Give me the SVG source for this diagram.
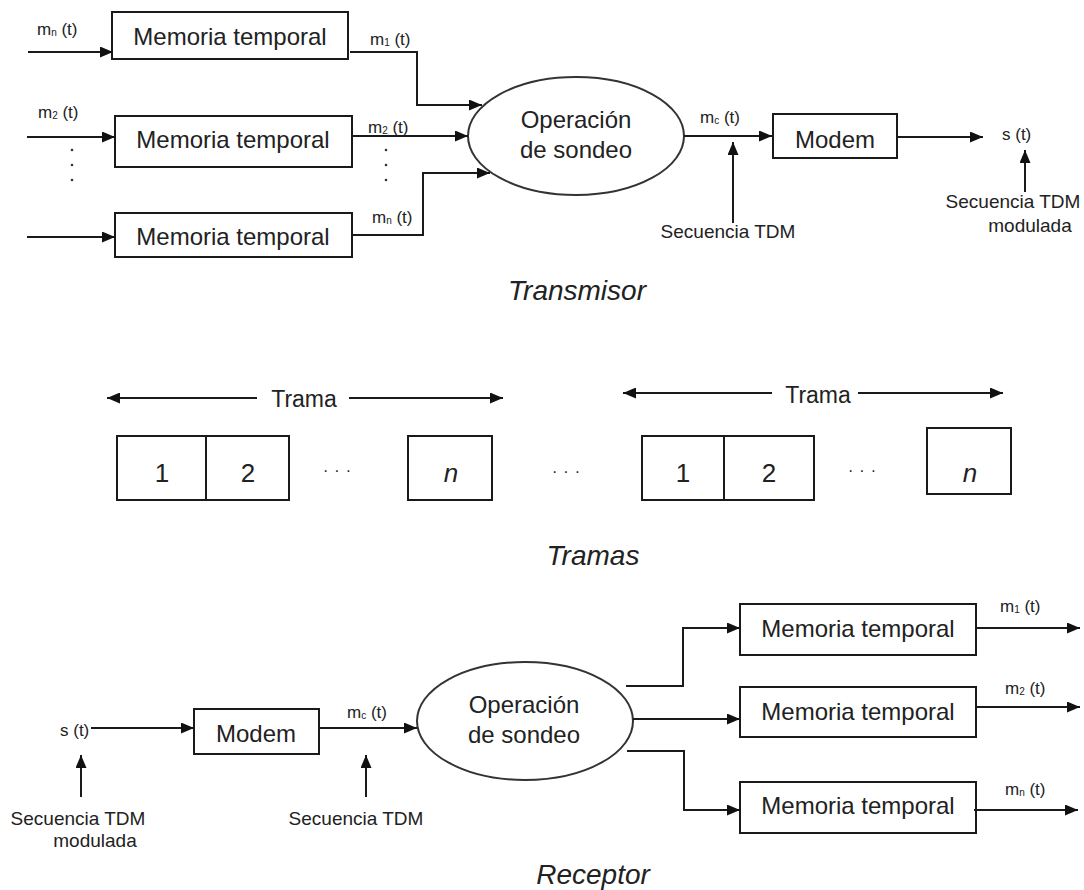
<svg xmlns="http://www.w3.org/2000/svg" width="1084" height="890" viewBox="0 0 1084 890">
  <defs>
    <marker id="arrow" markerUnits="userSpaceOnUse" markerWidth="13" markerHeight="11" refX="13" refY="5.5" orient="auto-start-reverse">
      <path d="M0,0 L13,5.5 L0,11 z" fill="#111"/>
    </marker>
    <style>
      .box { fill: #fff; stroke: #1a1a1a; stroke-width: 2; }
      .ell { fill: #fff; stroke: #333; stroke-width: 2; }
      .wire { fill: none; stroke: #1a1a1a; stroke-width: 2; }
      .arr { marker-end: url(#arrow); }
      .both { marker-start: url(#arrow); marker-end: url(#arrow); }
      text { font-family: "Liberation Sans", Arial, sans-serif; fill: #222; }
      .big { font-size: 24px; text-anchor: middle; }
      .sig { font-size: 17px; }
      .sub { font-size: 10px; }
      .note { font-size: 19px; text-anchor: middle; }
      .title { font-size: 28px; font-style: italic; text-anchor: middle; }
      .cell { font-size: 26px; text-anchor: middle; }
      .dots { font-size: 16px; letter-spacing: 6px; }
      .vdot { fill: #333; }
    </style>
  </defs>

  <!-- ===== Transmitter ===== -->
  <g id="tx-buffer-1">
    <rect class="box" x="112" y="12" width="236" height="47"/>
    <text class="big" x="230" y="45">Memoria temporal</text>
  </g>
  <g id="tx-buffer-2">
    <rect class="box" x="115" y="116" width="237" height="51"/>
    <text class="big" x="233" y="148">Memoria temporal</text>
  </g>
  <g id="tx-buffer-n">
    <rect class="box" x="115" y="213" width="237" height="44"/>
    <text class="big" x="233" y="245">Memoria temporal</text>
  </g>
  <g id="tx-poll">
    <ellipse class="ell" cx="576" cy="136" rx="108" ry="59"/>
    <text class="big" x="576" y="128">Operación</text>
    <text class="big" x="576" y="158">de sondeo</text>
  </g>
  <g id="tx-modem">
    <rect class="box" x="773" y="114" width="124" height="44"/>
    <text class="big" x="835" y="148">Modem</text>
  </g>

  <g id="tx-connectors">
    <line class="wire arr" x1="28" y1="52" x2="113" y2="52"/>
    <line class="wire arr" x1="27" y1="137" x2="115" y2="137"/>
    <line class="wire arr" x1="27" y1="237" x2="115" y2="237"/>
    <polyline class="wire arr" points="350,52 417,52 417,105 482,105"/>
    <line class="wire arr" x1="352" y1="136" x2="468" y2="136"/>
    <polyline class="wire arr" points="352,235 423,235 423,173 490,173"/>
    <line class="wire arr" x1="684" y1="136" x2="772" y2="136"/>
    <line class="wire arr" x1="733" y1="223" x2="733" y2="142"/>
    <line class="wire arr" x1="897" y1="137" x2="983" y2="137"/>
    <line class="wire arr" x1="1025" y1="192" x2="1025" y2="150"/>
  </g>

  <g id="tx-labels">
    <text class="sig" x="37" y="35">m<tspan class="sub" dy="1">n</tspan><tspan dy="-1"> (t)</tspan></text>
    <text class="sig" x="38" y="118">m<tspan class="sub" dy="1">2</tspan><tspan dy="-1"> (t)</tspan></text>
    <text class="sig" x="370" y="45">m<tspan class="sub" dy="1">1</tspan><tspan dy="-1"> (t)</tspan></text>
    <text class="sig" x="368" y="133">m<tspan class="sub" dy="1">2</tspan><tspan dy="-1"> (t)</tspan></text>
    <text class="sig" x="372" y="223">m<tspan class="sub" dy="1">n</tspan><tspan dy="-1"> (t)</tspan></text>
    <text class="sig" x="700" y="123">m<tspan class="sub" dy="1">c</tspan><tspan dy="-1"> (t)</tspan></text>
    <text class="sig" x="1002" y="140">s (t)</text>
    <text class="note" x="728" y="238">Secuencia TDM</text>
    <text class="note" x="1013" y="208">Secuencia TDM</text>
    <text class="note" x="1030" y="232">modulada</text>
    <circle class="vdot" cx="72" cy="150" r="1.3"/>
    <circle class="vdot" cx="72" cy="165" r="1.3"/>
    <circle class="vdot" cx="72" cy="180" r="1.3"/>
    <circle class="vdot" cx="386" cy="150" r="1.3"/>
    <circle class="vdot" cx="386" cy="165" r="1.3"/>
    <circle class="vdot" cx="386" cy="180" r="1.3"/>
    <text class="title" x="577" y="300">Transmisor</text>
  </g>

  <!-- ===== Frames ===== -->
  <g id="frame-1">
    <line class="wire both" x1="107" y1="398" x2="257" y2="398" style="marker-end:none"/>
    <line class="wire arr" x1="349" y1="398" x2="503" y2="398"/>
    <text class="big" x="304" y="407" style="font-size:23px">Trama</text>
    <rect class="box" x="117" y="436" width="89" height="64"/>
    <rect class="box" x="206" y="436" width="83" height="64"/>
    <rect class="box" x="408" y="436" width="84" height="64"/>
    <text class="cell" x="162" y="482">1</text>
    <text class="cell" x="248" y="482">2</text>
    <text class="cell" x="451" y="482" style="font-style:italic">n</text>
    <text class="dots" x="323" y="476">···</text>
  </g>
  <text class="dots" x="552" y="477">···</text>
  <g id="frame-2">
    <line class="wire both" x1="623" y1="393" x2="772" y2="393" style="marker-end:none"/>
    <line class="wire arr" x1="858" y1="393" x2="1003" y2="393"/>
    <text class="big" x="818" y="403" style="font-size:23px">Trama</text>
    <rect class="box" x="642" y="436" width="82" height="64"/>
    <rect class="box" x="724" y="436" width="90" height="64"/>
    <rect class="box" x="927" y="428" width="84" height="66"/>
    <text class="cell" x="683" y="482">1</text>
    <text class="cell" x="769" y="482">2</text>
    <text class="cell" x="970" y="482" style="font-style:italic">n</text>
    <text class="dots" x="848" y="476">···</text>
  </g>
  <text class="title" x="593" y="565">Tramas</text>

  <!-- ===== Receiver ===== -->
  <g id="rx-modem">
    <rect class="box" x="194" y="709" width="125" height="45"/>
    <text class="big" x="256" y="742">Modem</text>
  </g>
  <g id="rx-poll">
    <ellipse class="ell" cx="525" cy="721" rx="108" ry="59"/>
    <text class="big" x="524" y="713">Operación</text>
    <text class="big" x="524" y="743">de sondeo</text>
  </g>
  <g id="rx-buffer-1">
    <rect class="box" x="740" y="604" width="236" height="51"/>
    <text class="big" x="858" y="637">Memoria temporal</text>
  </g>
  <g id="rx-buffer-2">
    <rect class="box" x="740" y="687" width="236" height="50"/>
    <text class="big" x="858" y="720">Memoria temporal</text>
  </g>
  <g id="rx-buffer-n">
    <rect class="box" x="740" y="782" width="236" height="51"/>
    <text class="big" x="858" y="814">Memoria temporal</text>
  </g>

  <g id="rx-connectors">
    <line class="wire arr" x1="91" y1="728" x2="194" y2="728"/>
    <line class="wire arr" x1="319" y1="728" x2="417" y2="728"/>
    <line class="wire arr" x1="81" y1="797" x2="81" y2="755"/>
    <line class="wire arr" x1="366" y1="797" x2="366" y2="755"/>
    <polyline class="wire arr" points="626,686 683,686 683,628 740,628"/>
    <line class="wire arr" x1="633" y1="719" x2="740" y2="719"/>
    <polyline class="wire arr" points="627,751 684,751 684,810 740,810"/>
    <line class="wire arr" x1="976" y1="628" x2="1080" y2="628"/>
    <line class="wire arr" x1="976" y1="707" x2="1080" y2="707"/>
    <line class="wire arr" x1="974" y1="810" x2="1078" y2="810"/>
  </g>

  <g id="rx-labels">
    <text class="sig" x="60" y="736">s (t)</text>
    <text class="sig" x="347" y="718">m<tspan class="sub" dy="1">c</tspan><tspan dy="-1"> (t)</tspan></text>
    <text class="sig" x="1000" y="612">m<tspan class="sub" dy="1">1</tspan><tspan dy="-1"> (t)</tspan></text>
    <text class="sig" x="1005" y="694">m<tspan class="sub" dy="1">2</tspan><tspan dy="-1"> (t)</tspan></text>
    <text class="sig" x="1005" y="795">m<tspan class="sub" dy="1">n</tspan><tspan dy="-1"> (t)</tspan></text>
    <text class="note" x="78" y="825">Secuencia TDM</text>
    <text class="note" x="95" y="847">modulada</text>
    <text class="note" x="356" y="825">Secuencia TDM</text>
    <text class="title" x="593" y="884">Receptor</text>
  </g>
</svg>
